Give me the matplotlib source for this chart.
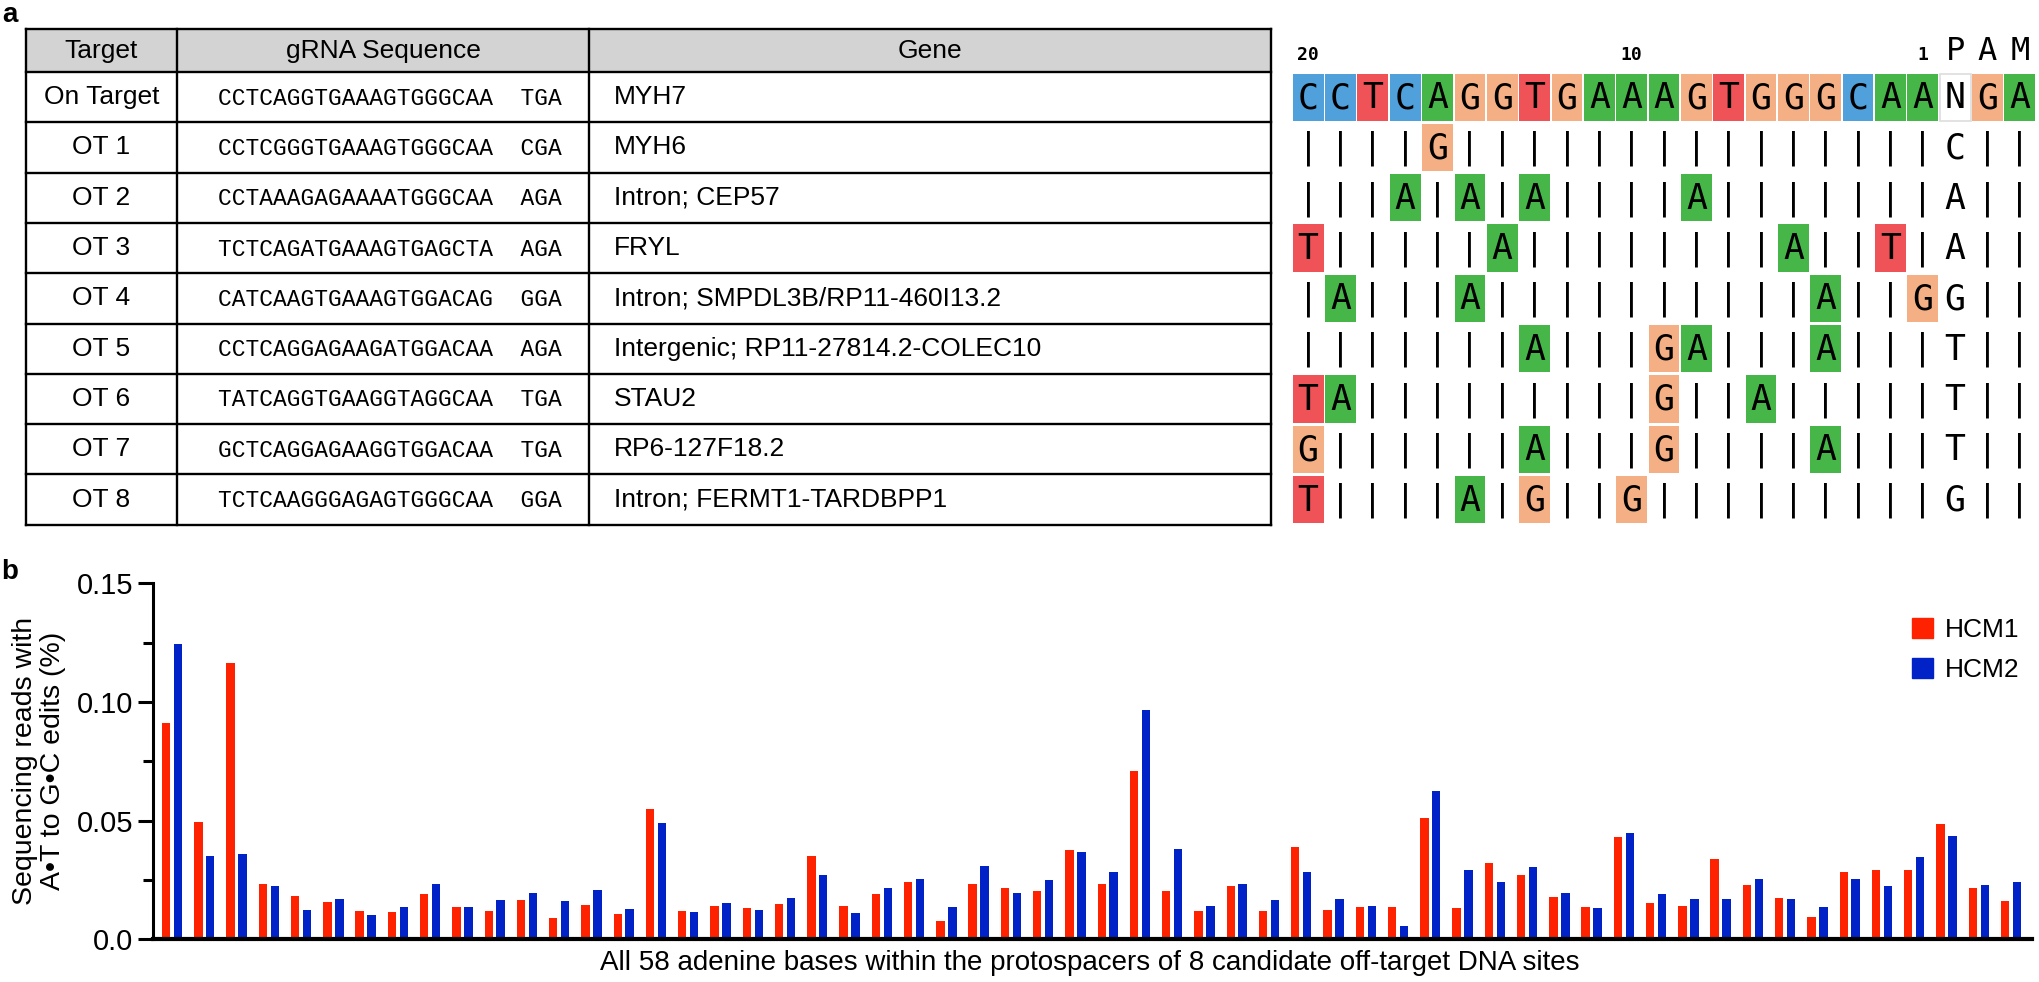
import matplotlib.pyplot as plt
from matplotlib.patches import Rectangle, Patch

# ---- panel a data ----
targets = ['On Target', 'OT 1', 'OT 2', 'OT 3', 'OT 4', 'OT 5', 'OT 6', 'OT 7', 'OT 8']
protospacers = ['CCTCAGGTGAAAGTGGGCAA', 'CCTCGGGTGAAAGTGGGCAA', 'CCTAAAGAGAAAATGGGCAA',
                'TCTCAGATGAAAGTGAGCTA', 'CATCAAGTGAAAGTGGACAG', 'CCTCAGGAGAAGATGGACAA',
                'TATCAGGTGAAGGTAGGCAA', 'GCTCAGGAGAAGGTGGACAA', 'TCTCAAGGGAGAGTGGGCAA']
pams = ['TGA', 'CGA', 'AGA', 'AGA', 'GGA', 'AGA', 'TGA', 'TGA', 'GGA']
genes = ['MYH7', 'MYH6', 'Intron; CEP57', 'FRYL', 'Intron; SMPDL3B/RP11-460I13.2',
         'Intergenic; RP11-27814.2-COLEC10', 'STAU2', 'RP6-127F18.2', 'Intron; FERMT1-TARDBPP1']
grid_ref = 'CCTCAGGTGAAAGTGGGCAANGA'
grid_pam = ['C', 'A', 'A', 'G', 'T', 'T', 'T', 'G']   # PAM "N" base as drawn in the alignment
pos_labels = {0: '20', 10: '10', 19: '1'}

# ---- panel b data ----
hcm1 = [0.0911, 0.0496, 0.1165, 0.0232, 0.0181, 0.0156, 0.0121, 0.0115, 0.0191, 0.0135,
        0.0121, 0.0166, 0.0090, 0.0146, 0.0105, 0.0550, 0.0118, 0.0142, 0.0131, 0.0148,
        0.0349, 0.0142, 0.0190, 0.0240, 0.0076, 0.0233, 0.0218, 0.0202, 0.0375, 0.0233,
        0.0708, 0.0202, 0.0118, 0.0224, 0.0118, 0.0387, 0.0125, 0.0138, 0.0138, 0.0509,
        0.0131, 0.0323, 0.0270, 0.0179, 0.0138, 0.0432, 0.0155, 0.0142, 0.0339, 0.0229,
        0.0173, 0.0093, 0.0284, 0.0291, 0.0291, 0.0485, 0.0215, 0.0160]
hcm2 = [0.1245, 0.0349, 0.0360, 0.0225, 0.0122, 0.0169, 0.0101, 0.0138, 0.0232, 0.0138,
        0.0164, 0.0193, 0.0160, 0.0209, 0.0129, 0.0488, 0.0117, 0.0155, 0.0122, 0.0173,
        0.0273, 0.0111, 0.0218, 0.0254, 0.0134, 0.0309, 0.0197, 0.0249, 0.0367, 0.0283,
        0.0967, 0.0380, 0.0142, 0.0232, 0.0164, 0.0283, 0.0169, 0.0142, 0.0055, 0.0624,
        0.0294, 0.0240, 0.0306, 0.0195, 0.0132, 0.0446, 0.0190, 0.0169, 0.0169, 0.0254,
        0.0169, 0.0134, 0.0256, 0.0226, 0.0347, 0.0437, 0.0228, 0.0242]

base_colors = {'C': '#4FA0DB', 'T': '#EF5358', 'A': '#47B649', 'G': '#F4B084', 'N': 'white'}
sans = 'Liberation Sans'

W, H = 2040, 982
fig = plt.figure(figsize=(W / 100, H / 100), dpi=100)

# panel a drawn in pixel units
ax_a = fig.add_axes([0, 0, 1, 1])
ax_a.set_xlim(0, W)
ax_a.set_ylim(H, 0)
ax_a.axis('off')

col_edges = [26, 177, 589, 1271]
top, head_h, row_h = 29, 43, 50.3
row_lines = [top] + [top + head_h + i * row_h for i in range(len(targets) + 1)]
bottom = row_lines[-1]
lw = 1.7

# header background
ax_a.add_patch(Rectangle((col_edges[0], top), col_edges[-1] - col_edges[0], head_h,
                         facecolor='#D4D3D4', edgecolor='none'))
for y in row_lines:
    ax_a.plot([col_edges[0], col_edges[-1]], [y, y], color='black', lw=lw, solid_capstyle='projecting')
for x in col_edges:
    ax_a.plot([x, x], [top, bottom], color='black', lw=lw, solid_capstyle='projecting')

headers = ['Target', 'gRNA Sequence', 'Gene']
for j, h in enumerate(headers):
    ax_a.text((col_edges[j] + col_edges[j + 1]) / 2, top + head_h / 2, h,
              ha='center', va='center', fontsize=19, family=sans)

for i, (t, s, p, g) in enumerate(zip(targets, protospacers, pams, genes)):
    yc = top + head_h + (i + 0.5) * row_h
    ax_a.text((col_edges[0] + col_edges[1]) / 2, yc, t, ha='center', va='center',
              fontsize=19, family=sans)
    ax_a.text(col_edges[1] + 41, yc + 1, s + '  ' + p, ha='left', va='center',
              fontsize=16.5, family='Liberation Mono')
    ax_a.text(col_edges[2] + 25, yc, g, ha='left', va='center', fontsize=19, family=sans)

# alignment grid
gx0, gpitch = 1292, 32.35
mono = 'DejaVu Sans Mono'
for c in range(len(grid_ref)):
    xc = gx0 + (c + 0.5) * gpitch
    if c in pos_labels:
        ax_a.text(xc, top + head_h - 12, pos_labels[c], ha='center', va='baseline',
                  fontsize=13, family=mono, fontweight='bold')
for c, letter in zip(range(20, 23), 'PAM'):
    ax_a.text(gx0 + (c + 0.5) * gpitch, top + head_h - 12, letter, ha='center', va='baseline',
              fontsize=23, family=mono)

rows = [grid_ref] + [s + pm + 'GA' for s, pm in zip(protospacers[1:], grid_pam)]
for r, seq in enumerate(rows):
    y0 = top + head_h + r * row_h
    yc = y0 + row_h / 2
    for c, b in enumerate(seq):
        xl = gx0 + c * gpitch
        xc = xl + gpitch / 2
        if r == 0:
            boxed, txt = True, b
        elif c < 20:
            boxed = b != grid_ref[c]
            txt = b if boxed else '|'
        elif c == 20:
            boxed, txt = False, b
        else:
            boxed, txt = False, '|'
        if boxed:
            ec = '#DDDDDD' if b == 'N' else 'none'
            ax_a.add_patch(Rectangle((xl + 0.8, y0 + 1.5), gpitch - 1.6, row_h - 3,
                                     facecolor=base_colors[b], edgecolor=ec, lw=1.2))
        ax_a.text(xc, yc + 1, txt, ha='center', va='center', fontsize=25, family=mono)

fig.text(10 / W, 1 - 15 / H, 'a', fontsize=20, fontweight='bold', family=sans, ha='center', va='center')
fig.text(10 / W, 1 - 572 / H, 'b', fontsize=20, fontweight='bold', family=sans, ha='center', va='center')

# ---- panel b ----
ax = fig.add_axes([153 / W, 42.7 / H, (2032 - 153) / W, (939.3 - 583.3) / H])
x = list(range(len(hcm1)))
bw = 0.26
ax.bar([i - 0.185 for i in x], hcm1, width=bw, color='#FF2200', label='HCM1')
ax.bar([i + 0.185 for i in x], hcm2, width=bw, color='#0022C6', label='HCM2')
ax.set_xlim(-0.59, len(x) - 1 + 0.65)
ax.set_ylim(0, 0.15)
ax.set_yticks([0, 0.05, 0.10, 0.15])
ax.set_yticklabels(['0.0', '0.05', '0.10', '0.15'])
ax.set_yticks([0.025, 0.075, 0.125], minor=True)
ax.set_xticks([])
for side in ['top', 'right']:
    ax.spines[side].set_visible(False)
ax.spines['left'].set_linewidth(2.2)
ax.spines['bottom'].set_linewidth(3)
ax.tick_params(axis='y', which='major', length=11, width=2.2, labelsize=21, pad=3)
ax.tick_params(axis='y', which='minor', length=7, width=2.2)
for lab in ax.get_yticklabels():
    lab.set_family(sans)

fig.text(39 / W, 1 - 761 / H, 'Sequencing reads with\nA\u2022T to G\u2022C edits (%)', rotation=90,
         ha='center', va='center', multialignment='center', fontsize=20.5, family=sans,
         linespacing=1.1)
fig.text(1090 / W, 1 - 963 / H,
         'All 58 adenine bases within the protospacers of 8 candidate off-target DNA sites',
         ha='center', va='center', fontsize=20, family=sans)

handles = [Patch(color='#FF2200'), Patch(color='#0022C6')]
fig.legend(handles, ['HCM1', 'HCM2'], loc='upper left', bbox_to_anchor=(1912 / W, 1 - 618 / H),
           frameon=False, prop={'family': sans, 'size': 19}, handlelength=0.8, handleheight=0.8,
           handletextpad=0.45, labelspacing=0.6, borderpad=0, borderaxespad=0)

fig.savefig('out.png', dpi=100)
